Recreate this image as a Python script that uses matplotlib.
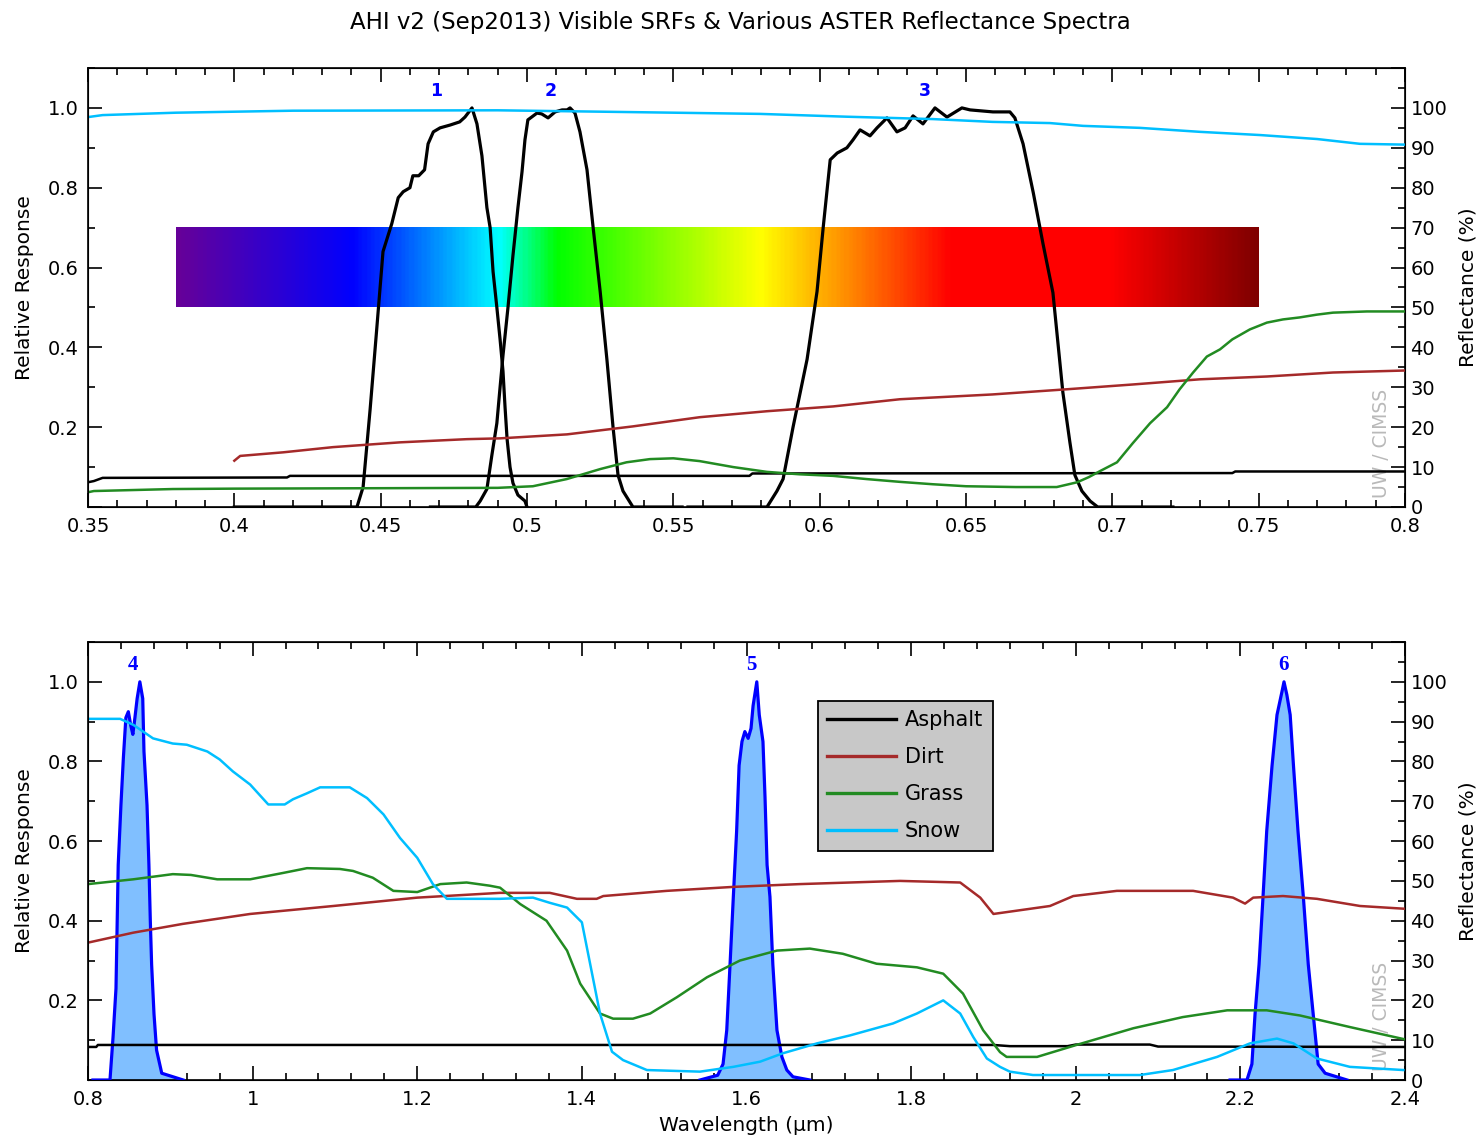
import numpy as np
import matplotlib
matplotlib.use("Agg")
import matplotlib.pyplot as plt
from matplotlib.colors import LinearSegmentedColormap
from matplotlib.ticker import MultipleLocator, FuncFormatter
from matplotlib.lines import Line2D

plt.rcParams['font.family'] = ['DejaVu Sans']

# ---------------- data ----------------
title = "AHI v2 (Sep2013) Visible SRFs & Various ASTER Reflectance Spectra"
surface_names = ["Asphalt", "Dirt", "Grass", "Snow"]
surface_colors = ["#000000", "#a52a2a", "#228b22", "#00bfff"]

band_labels_vis = ["1", "2", "3"]
band_centers_vis = [0.469, 0.508, 0.636]
band_labels_nir = ["4", "5", "6"]
band_centers_nir = [0.855, 1.606, 2.252]

# visible spectrum bar
spectrum_wl = [0.38, 0.44, 0.49, 0.51, 0.58, 0.645, 0.70, 0.75]
spectrum_colors = ["#660099", "#0000ff", "#00ffff", "#00ff00", "#ffff00", "#ff0000", "#ff0000", "#800000"]
spectrum_band = [0.5, 0.7]

# SRFs (relative response)
band1_wl = [0.400, 0.4419, 0.444, 0.4464, 0.4487, 0.4508, 0.4538, 0.456, 0.4577, 0.460, 0.461, 0.463,
            0.465, 0.4662, 0.468, 0.4703, 0.4737, 0.477, 0.4788, 0.4812, 0.4829, 0.4846, 0.4863, 0.4874,
            0.4884, 0.4897, 0.4908, 0.4918, 0.4925, 0.4932, 0.4942, 0.4952, 0.4969, 0.4993, 0.500]
band1_rsp = [0.0, 0.0, 0.05, 0.245, 0.45, 0.64, 0.71, 0.775, 0.79, 0.80, 0.83, 0.83, 0.845, 0.91, 0.94,
             0.95, 0.957, 0.965, 0.977, 1.0, 0.96, 0.88, 0.75, 0.70, 0.59, 0.50, 0.42, 0.34, 0.25, 0.17,
             0.10, 0.06, 0.03, 0.015, 0.0]
band2_wl = [0.467, 0.4825, 0.484, 0.4863, 0.488, 0.4897, 0.4908, 0.4918, 0.4935, 0.4952, 0.4969, 0.4983,
            0.4993, 0.5003, 0.5034, 0.505, 0.5072, 0.5096, 0.512, 0.5137, 0.5147, 0.5164, 0.5181, 0.5205,
            0.5226, 0.525, 0.5273, 0.5294, 0.5311, 0.5328, 0.5362, 0.553]
band2_rsp = [0.0, 0.0, 0.015, 0.045, 0.13, 0.21, 0.30, 0.38, 0.50, 0.63, 0.75, 0.84, 0.92, 0.97, 0.987,
             0.985, 0.975, 0.99, 0.995, 0.995, 1.0, 0.987, 0.94, 0.845, 0.70, 0.54, 0.37, 0.20, 0.08, 0.04,
             0.0, 0.0]
band3_wl = [0.555, 0.582, 0.5854, 0.5875, 0.5909, 0.5957, 0.5991, 0.6012, 0.6036, 0.606, 0.6093, 0.6114,
            0.6138, 0.6172, 0.6196, 0.623, 0.6264, 0.6292, 0.6319, 0.6353, 0.6394, 0.6435, 0.6486, 0.6514,
            0.6592, 0.665, 0.6667, 0.6695, 0.673, 0.6763, 0.6797, 0.6831, 0.6855, 0.6872, 0.6896, 0.6924,
            0.695, 0.7207]
band3_rsp = [0.0, 0.0, 0.04, 0.07, 0.2, 0.37, 0.54, 0.70, 0.87, 0.887, 0.90, 0.92, 0.945, 0.93, 0.95,
             0.975, 0.94, 0.95, 0.98, 0.96, 1.0, 0.977, 1.0, 0.995, 0.99, 0.99, 0.975, 0.91, 0.787, 0.66,
             0.537, 0.287, 0.162, 0.08, 0.04, 0.015, 0.0, 0.0]
band4_wl = [0.806, 0.8267, 0.8304, 0.834, 0.8367, 0.84, 0.843, 0.846, 0.849, 0.852, 0.8545, 0.857, 0.8597,
            0.863, 0.8665, 0.868, 0.8717, 0.874, 0.8757, 0.8773, 0.8802, 0.8833, 0.8896, 0.9156]
band4_rsp = [0.0, 0.0, 0.107, 0.23, 0.54, 0.69, 0.81, 0.91, 0.925, 0.89, 0.868, 0.91, 0.958, 1.0, 0.958,
             0.825, 0.69, 0.54, 0.40, 0.29, 0.165, 0.075, 0.017, 0.0]
band5_wl = [1.5435, 1.565, 1.5715, 1.576, 1.58, 1.584, 1.588, 1.591, 1.5945, 1.598, 1.602, 1.6055, 1.608,
            1.6125, 1.6155, 1.62, 1.6225, 1.625, 1.6285, 1.632, 1.637, 1.643, 1.649, 1.6565, 1.677]
band5_rsp = [0.0, 0.012, 0.04, 0.125, 0.29, 0.46, 0.625, 0.79, 0.85, 0.875, 0.858, 0.883, 0.94, 1.0, 0.917,
             0.85, 0.71, 0.54, 0.46, 0.29, 0.125, 0.058, 0.025, 0.008, 0.0]
band6_wl = [2.1875, 2.208, 2.214, 2.2178, 2.2227, 2.2275, 2.232, 2.2385, 2.2445, 2.2505, 2.253, 2.2565,
            2.2605, 2.2645, 2.27, 2.2765, 2.2825, 2.2885, 2.2945, 2.303, 2.3296]
band6_rsp = [0.0, 0.0, 0.04, 0.165, 0.29, 0.46, 0.625, 0.79, 0.917, 0.975, 1.0, 0.967, 0.917, 0.79, 0.625,
             0.46, 0.29, 0.165, 0.04, 0.017, 0.0]

# ASTER reflectance spectra (%), visible range
asphalt_vis_wl = [0.35, 0.352, 0.355, 0.418, 0.419, 0.576, 0.577, 0.741, 0.742, 0.80]
asphalt_vis = [6.2, 6.5, 7.3, 7.4, 7.8, 7.8, 8.4, 8.5, 8.9, 8.9]
dirt_vis_wl = [0.400, 0.402, 0.4167, 0.4337, 0.4566, 0.4795, 0.4908, 0.5137, 0.5362, 0.559, 0.582, 0.6046,
               0.6274, 0.659, 0.6845, 0.707, 0.73, 0.7528, 0.7754, 0.80]
dirt_vis = [11.6, 12.8, 13.7, 15.0, 16.2, 17.0, 17.2, 18.2, 20.2, 22.5, 24.0, 25.2, 27.0, 28.2, 29.5, 30.7,
            32.0, 32.7, 33.7, 34.2]
grass_vis_wl = [0.35, 0.352, 0.379, 0.40, 0.49, 0.502, 0.5136, 0.525, 0.534, 0.542, 0.55, 0.559, 0.5705,
                0.582, 0.593, 0.6046, 0.616, 0.6274, 0.6387, 0.65, 0.667, 0.681, 0.688, 0.692, 0.6958,
                0.7016, 0.707, 0.7129, 0.7187, 0.723, 0.7276, 0.7323, 0.7368, 0.741, 0.747, 0.7528, 0.7583,
                0.764, 0.7699, 0.7754, 0.787, 0.80]
grass_vis = [3.7, 4.0, 4.5, 4.6, 4.8, 5.2, 7.0, 9.5, 11.2, 12.0, 12.2, 11.5, 10.0, 8.8, 8.2, 7.8, 7.0, 6.3,
             5.7, 5.2, 5.0, 5.0, 6.2, 7.5, 9.0, 11.2, 16.0, 21.0, 25.0, 29.5, 33.7, 37.7, 39.5, 42.0, 44.5,
             46.2, 47.0, 47.5, 48.2, 48.7, 49.0, 49.0]
snow_vis_wl = [0.35, 0.355, 0.38, 0.42, 0.49, 0.5306, 0.5796, 0.609, 0.6387, 0.659, 0.6787, 0.69, 0.7094,
               0.73, 0.7505, 0.77, 0.7846, 0.80]
snow_vis = [97.7, 98.2, 98.8, 99.3, 99.4, 99.0, 98.5, 97.8, 97.2, 96.5, 96.2, 95.5, 95.0, 94.0, 93.2, 92.2,
            91.0, 90.8]

# ASTER reflectance spectra (%), near-IR range
asphalt_nir_wl = [0.80, 0.81, 0.812, 1.90, 1.92, 1.99, 2.0, 2.09, 2.10, 2.40]
asphalt_nir = [8.3, 8.3, 8.8, 8.8, 8.5, 8.5, 8.9, 8.9, 8.4, 8.3]
dirt_nir_wl = [0.80, 0.855, 0.915, 0.997, 1.098, 1.20, 1.3006, 1.361, 1.394, 1.418, 1.426, 1.503, 1.584,
               1.665, 1.7865, 1.8596, 1.884, 1.90, 1.9687, 1.997, 2.05, 2.1426, 2.191, 2.2057, 2.2156,
               2.2518, 2.293, 2.3454, 2.40]
dirt_nir = [34.5, 37.0, 39.2, 41.7, 43.7, 45.8, 47.0, 47.0, 45.5, 45.5, 46.2, 47.5, 48.5, 49.2, 50.0, 49.6,
            45.8, 41.7, 43.7, 46.2, 47.5, 47.5, 45.8, 44.3, 45.8, 46.2, 45.5, 43.7, 43.0]
grass_nir_wl = [0.80, 0.855, 0.903, 0.925, 0.957, 0.997, 1.037, 1.066, 1.106, 1.122, 1.146, 1.171, 1.20,
                1.228, 1.26, 1.288, 1.3006, 1.325, 1.357, 1.382, 1.398, 1.422, 1.438, 1.462, 1.483, 1.5155,
                1.552, 1.592, 1.637, 1.677, 1.717, 1.758, 1.807, 1.839, 1.863, 1.8875, 1.908, 1.916, 1.953,
                2.0, 2.07, 2.13, 2.184, 2.232, 2.2725, 2.333, 2.40]
grass_nir = [49.2, 50.4, 51.7, 51.5, 50.4, 50.4, 52.0, 53.2, 53.0, 52.5, 50.8, 47.5, 47.2, 49.2, 49.6, 48.8,
             48.3, 44.2, 40.0, 32.5, 24.2, 16.7, 15.4, 15.4, 16.7, 20.8, 25.8, 30.0, 32.5, 33.0, 31.7, 29.2,
             28.3, 26.7, 21.7, 12.5, 7.0, 5.8, 5.8, 8.75, 13.0, 15.8, 17.5, 17.5, 16.2, 13.3, 10.2]
snow_nir_wl = [0.80, 0.839, 0.855, 0.879, 0.903, 0.92, 0.945, 0.96, 0.976, 0.997, 1.019, 1.039, 1.049,
               1.066, 1.082, 1.118, 1.139, 1.159, 1.179, 1.20, 1.219, 1.236, 1.30, 1.3406, 1.361, 1.382,
               1.40, 1.41, 1.422, 1.4366, 1.45, 1.479, 1.5435, 1.584, 1.6165, 1.644, 1.6857, 1.7258, 1.778,
               1.807, 1.839, 1.8596, 1.8755, 1.892, 1.908, 1.92, 1.948, 2.078, 2.118, 2.1717, 2.2117,
               2.2445, 2.2645, 2.293, 2.333, 2.398]
snow_nir = [90.7, 90.7, 89.2, 85.8, 84.5, 84.2, 82.5, 80.5, 77.5, 74.2, 69.2, 69.2, 70.5, 72.0, 73.5, 73.5,
            70.8, 66.7, 60.8, 55.8, 49.2, 45.5, 45.5, 45.8, 44.5, 43.3, 39.6, 29.2, 16.7, 7.1, 5.0, 2.5,
            2.1, 3.3, 4.6, 6.7, 9.2, 11.2, 14.2, 16.7, 20.0, 16.7, 10.8, 5.4, 3.3, 2.1, 1.25, 1.25, 2.5,
            5.8, 9.2, 10.4, 9.2, 5.4, 3.3, 2.5]

# ---------------- figure ----------------
fig = plt.figure(figsize=(14.8, 11.44), dpi=100)
ax_top = fig.add_axes([88/1480, 1-507/1144, 1317/1480, 439/1144])
ax_bot = fig.add_axes([88/1480, 1-1080/1144, 1317/1480, 438/1144])

TICK_FS = 14
LABEL_FS = 14.5


def style_axes(ax, xlim, xmajor, xminor):
    ax.set_xlim(*xlim)
    ax.set_ylim(0, 1.1)
    ax.xaxis.set_major_locator(MultipleLocator(xmajor))
    ax.xaxis.set_minor_locator(MultipleLocator(xminor))
    ax.xaxis.set_major_formatter(FuncFormatter(lambda v, p: f"{round(v, 3):g}"))
    ax.yaxis.set_major_locator(MultipleLocator(0.2))
    ax.yaxis.set_minor_locator(MultipleLocator(0.1))
    ax.yaxis.set_major_formatter(FuncFormatter(lambda v, p: "" if v < 0.1 or v > 1.05 else f"{v:.1f}"))
    ax.tick_params(which='both', direction='in', top=True, bottom=True, left=True, right=False,
                   labelsize=TICK_FS, width=1.2, pad=7)
    ax.tick_params(which='major', length=10)
    ax.tick_params(which='minor', length=5)
    ax.set_ylabel("Relative Response", fontsize=LABEL_FS, labelpad=10)
    for s in ax.spines.values():
        s.set_linewidth(1.2)
    ax2 = ax.twinx()
    ax2.set_ylim(0, 110)
    ax2.yaxis.set_major_locator(MultipleLocator(10))
    ax2.yaxis.set_minor_locator(MultipleLocator(5))
    ax2.yaxis.set_major_formatter(FuncFormatter(lambda v, p: "" if v > 105 else f"{v:.0f}"))
    ax2.tick_params(which='both', direction='in', right=True, left=False, labelsize=TICK_FS, width=1.2, pad=4)
    ax2.tick_params(which='major', length=10)
    ax2.tick_params(which='minor', length=5)
    ax2.set_ylabel("Reflectance (%)", fontsize=LABEL_FS, labelpad=8)
    ax.tick_params(which='both', direction='in', left=True, right=False)
    ax.text(0.9825, 0.02, "UW / CIMSS", transform=ax.transAxes, rotation=90, ha='center', va='bottom',
            fontsize=13.5, color='#b9b9b9', zorder=1)
    return ax2


ax2_top = style_axes(ax_top, (0.35, 0.80), 0.05, 0.01)
ax2_bot = style_axes(ax_bot, (0.8, 2.4), 0.2, 0.04)

# ---- top panel ----
cmap = LinearSegmentedColormap.from_list(
    "vis", [((w - spectrum_wl[0]) / (spectrum_wl[-1] - spectrum_wl[0]), c)
            for w, c in zip(spectrum_wl, spectrum_colors)])
grad = np.linspace(0, 1, 600).reshape(1, -1)
ax_top.imshow(grad, cmap=cmap, aspect='auto', interpolation='bilinear',
              extent=[spectrum_wl[0], spectrum_wl[-1], spectrum_band[0], spectrum_band[1]], zorder=1)
ax_top.set_xlim(0.35, 0.80)
ax_top.set_ylim(0, 1.1)

for wl, rsp in [(band1_wl, band1_rsp), (band2_wl, band2_rsp), (band3_wl, band3_rsp)]:
    ax_top.plot(wl, rsp, color='black', lw=2.3, zorder=3)
for lab, c in zip(band_labels_vis, band_centers_vis):
    ax_top.text(c, 1.042, lab, color='#0000ff', fontsize=12.5, fontweight='bold', ha='center', va='center')

vis_series = [(asphalt_vis_wl, asphalt_vis), (dirt_vis_wl, dirt_vis), (grass_vis_wl, grass_vis),
              (snow_vis_wl, snow_vis)]
for (wl, val), col in zip(vis_series, surface_colors):
    ax2_top.plot(wl, val, color=col, lw=1.8)

# ---- bottom panel ----
for wl, rsp in [(band4_wl, band4_rsp), (band5_wl, band5_rsp), (band6_wl, band6_rsp)]:
    ax_bot.fill_between(wl, rsp, 0, color='#80bfff', lw=0, zorder=2)
    ax_bot.plot(wl, rsp, color='#0000ff', lw=2.3, zorder=3)
for lab, c in zip(band_labels_nir, band_centers_nir):
    ax_bot.text(c, 1.042, lab, color='#0000ff', fontsize=15, fontweight='bold', ha='center', va='center',
                family='Liberation Serif')

nir_series = [(asphalt_nir_wl, asphalt_nir), (dirt_nir_wl, dirt_nir), (grass_nir_wl, grass_nir),
              (snow_nir_wl, snow_nir)]
for (wl, val), col in zip(nir_series, surface_colors):
    ax2_bot.plot(wl, val, color=col, lw=1.8)

ax_bot.set_xlabel("Wavelength (μm)", fontsize=LABEL_FS, labelpad=5)

handles = [Line2D([], [], color=c, lw=2.4) for c in surface_colors]
leg = ax2_bot.legend(handles, surface_names, loc='upper left', bbox_to_anchor=(0.554, 0.866),
                     borderaxespad=0, fontsize=15, frameon=True, fancybox=False, facecolor='#c8c8c8',
                     edgecolor='black', framealpha=1, handlelength=3.3, handletextpad=0.45,
                     labelspacing=0.82, borderpad=0.45)
leg.get_frame().set_linewidth(1.3)

fig.suptitle(title, y=1-22/1144, va='center', fontsize=16.5)

fig.savefig("out.png", dpi=100)
